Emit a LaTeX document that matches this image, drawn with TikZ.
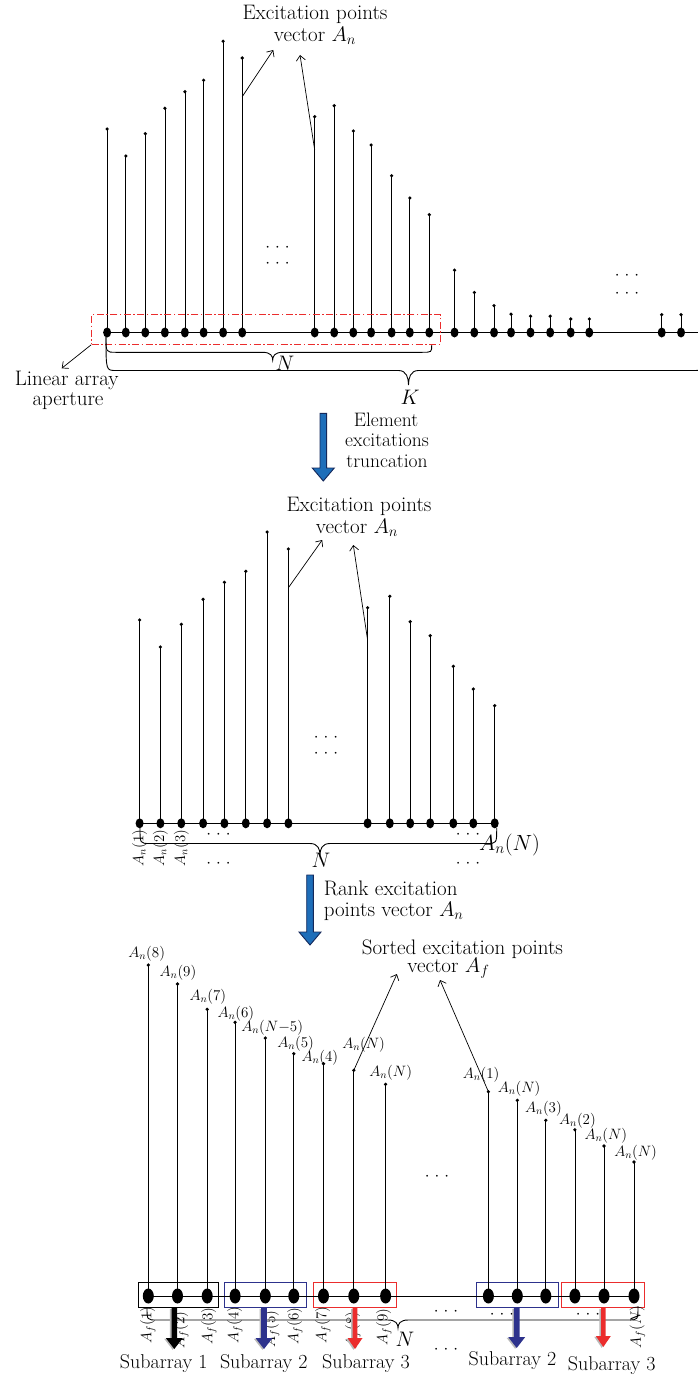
\RequirePackage{fix-cm}
\documentclass[tikz,border=0pt]{standalone}
\usetikzlibrary{arrows.meta}
\definecolor{redbox}{RGB}{235,45,45}
\definecolor{navy}{RGB}{45,50,140}
\definecolor{bluefill}{RGB}{30,110,185}
\definecolor{blueline}{RGB}{20,40,90}
\newcommand\dts{$\cdot$\hspace{5pt}$\cdot$\hspace{5pt}$\cdot$}
\newcommand\blockarr[7]{\path[#1] ({#2-#5},#3) -- ({#2-#5},{#4-#7}) -- ({#2-#6},{#4-#7}) -- (#2,#4) -- ({#2+#6},{#4-#7}) -- ({#2+#5},{#4-#7}) -- ({#2+#5},#3) -- cycle;}
\newcommand\cbrace[7]{\draw[bracel] (#1,#2) .. controls (#1,#5) and (#1,#5) .. ({#1+10},#5) -- ({#6-10},#5) .. controls ({#6-2},#5) and (#6,{(#5+#7)/2}) .. (#6,#7) .. controls (#6,{(#5+#7)/2}) and ({#6+2},#5) .. ({#6+10},#5) -- ({#3-10},#5) .. controls (#3,#5) and (#3,#5) .. (#3,#4);}
\begin{document}
\begin{tikzpicture}[x=1pt,y=-1pt,
  txt/.style={font=\fontsize{21}{24}\selectfont, inner sep=0pt, anchor=base},
  etxt/.style={font=\fontsize{19.5}{22}\selectfont, inner sep=0pt, anchor=base},
  sub/.style={font=\fontsize{20}{23}\selectfont, inner sep=0pt, anchor=base},
  lbl/.style={font=\fontsize{15}{18}\selectfont, inner sep=0pt, anchor=base},
  rlbl/.style={font=\fontsize{15}{18}\selectfont, inner sep=0pt, rotate=90},
  dotsn/.style={font=\fontsize{17}{20}\selectfont, inner sep=0pt},
  stemln/.style={line width=0.75pt},
  axisln/.style={line width=1.2pt},
  bracel/.style={line width=0.9pt},
  thinarrow/.style={-{Straight Barb[length=5pt,width=9pt]}, line width=0.7pt},
  bigblue/.style={fill=bluefill, draw=blueline, line width=0.9pt},
  shadow/.style={fill=gray!55, shift={(-1.6,0.8)}},
]
\useasboundingbox (0,0) rectangle (697,1378);

% ================= TOP =================
\draw[axisln] (107.1,332.5) -- (699,332.5);
\foreach \x/\t [count=\i] in {107.1/129,125.8/156,145.3/133.7,164.9/108.3,184.9/91.7,203.6/80.3,223.1/41.3,242.2/58,314.7/116.7,334.2/105.7,353.3/131,371.1/145,391.6/175.7,409.8/198,429.3/214.7,454.5/270.2,474.3/292.5,494/305.6,511/314.2,530.5/316.2,550.2/316.2,570.7/319,589.3/319,661.7/314.7,681/314.7}{
  \draw[stemln] (\x,332.5) -- (\x,\t);
  \fill (\x,\t) circle[radius=1.8pt];
  \fill (\x,332.5) ellipse[x radius=4pt, y radius=5pt];
  \coordinate (T\i) at (\x,332.5);
}
\node[dotsn] (td1) at (277.5,247.7) {\dts};
\node[dotsn] (td2) at (277.5,263.3) {\dts};
\node[dotsn] (td3) at (627,275.7) {\dts};
\node[dotsn] (td4) at (627,293.7) {\dts};

\node[txt] (tt1) at (315,19.3) {Excitation points};
\node[txt] (tt2) at (315,41.7) {vector $A_n$};
\coordinate (ta1) at (242.2,96.7);
\coordinate (ta1e) at (273.3,50);
\coordinate (ta2) at (314.7,150);
\coordinate (ta2e) at (300,55);
\draw[thinarrow] (ta1) -- (ta1e);
\draw[thinarrow] (ta2) -- (ta2e);

\node[draw=redbox, line width=0.9pt, dash pattern=on 7pt off 2.5pt on 1.5pt off 2.5pt, minimum width=349pt, minimum height=29.6pt, inner sep=0pt] (aper) at (266.2,329.5) {};
\coordinate (la) at (61.7,368.3);
\draw[thinarrow] (aper.south west) -- (la);
\node[txt] (lat1) at (66.7,385) {Linear array};
\node[txt] (lat2) at (68,405) {aperture};

\cbrace{106}{337}{431.7}{345}{352.3}{272.7}{360}
\cbrace{106}{337}{703}{352}{370.5}{408.5}{385}
\node[txt] (tN) at (285,370) {$N$};
\node[txt] (tK) at (410,404) {$K$};

% first block arrow
\blockarr{bigblue}{323.3}{413.3}{481}{3.3}{11}{13}
\node[etxt] (e1) at (386,426.7) {Element};
\node[etxt] (e2) at (387,446.7) {excitations};
\node[etxt] (e3) at (387,467.3) {truncation};

% ================= MIDDLE =================
\draw[axisln] (139.6,823.3) -- (494.7,823.3);
\foreach \x/\t [count=\i] in {139.6/620,160.4/647,181.3/624.3,203.1/599.3,224.4/582.3,245.8/571.3,267.1/532,288.4/549,367.6/607.7,389.8/596.3,410.2/621.7,430.2/635.7,453.3/666.3,473.3/689,494.7/705.7}{
  \draw[stemln] (\x,823.3) -- (\x,\t);
  \fill (\x,\t) circle[radius=1.8pt];
  \fill (\x,823.3) ellipse[x radius=4pt, y radius=5pt];
  \coordinate (M\i) at (\x,823.3);
}
\node[dotsn] (md1) at (326,737.3) {\dts};
\node[dotsn] (md2) at (326,753.3) {\dts};
\node[dotsn] (md3) at (218.5,834.3) {\dts};
\node[dotsn] (md4) at (218.5,863.3) {\dts};
\node[dotsn] (md5) at (468,834.3) {\dts};
\node[dotsn] (md6) at (468,863.3) {\dts};

\node[txt] (mt1) at (359,511.7) {Excitation points};
\node[txt] (mt2) at (357,533.3) {vector $A_n$};
\coordinate (ma1) at (288.4,587.7);
\coordinate (ma1e) at (322.2,540);
\coordinate (ma2) at (367.6,640);
\coordinate (ma2e) at (353.3,545);
\draw[thinarrow] (ma1) -- (ma1e);
\draw[thinarrow] (ma2) -- (ma2e);

\node[rlbl] (ml1) at (139.6,848) {$A_n(1)$};
\node[rlbl] (ml2) at (160.4,848) {$A_n(2)$};
\node[rlbl] (ml3) at (181.3,848) {$A_n(3)$};
\node[font=\fontsize{22}{24}\selectfont, inner sep=0pt, anchor=base west] (mlN) at (479,850) {$A_n(N)$};

\cbrace{140}{828}{496.7}{828}{843.5}{320}{855}
\node[txt] (mN) at (321,867.3) {$N$};

% second block arrow
\blockarr{bigblue}{310}{875}{945}{3.3}{11}{13}
\node[txt, anchor=base west] (r1) at (323.6,895) {Rank excitation};
\node[txt, anchor=base west] (r2) at (323.6,916.7) {points vector $A_n$};

% ================= BOTTOM =================
\node[draw=black, line width=0.8pt, minimum width=80pt, minimum height=25pt, inner sep=0pt] (bx1) at (178.3,1294.8) {};
\node[draw=navy, line width=0.8pt, minimum width=81.7pt, minimum height=25pt, inner sep=0pt] (bx2) at (265.2,1294.8) {};
\node[draw=redbox, line width=0.8pt, minimum width=83.4pt, minimum height=25pt, inner sep=0pt] (bx3) at (355,1294.8) {};
\node[draw=navy, line width=0.8pt, minimum width=82.3pt, minimum height=25pt, inner sep=0pt] (bx4) at (517.2,1294.8) {};
\node[draw=redbox, line width=0.8pt, minimum width=82.3pt, minimum height=25pt, inner sep=0pt] (bx5) at (602.9,1294.8) {};

\draw[line width=1pt] (148.3,1296) -- (634,1296);
\foreach \x/\t [count=\i] in {148.3/965,177.5/984,207.2/1009.3,235.1/1022.3,265.3/1038,293.8/1053.7,323.5/1063.7,353.8/1070.3,385.6/1084.3,488.4/1091.7,517.3/1100.3,545.8/1120.3,574.9/1129.7,604/1146,634/1162}{
  \draw[stemln] (\x,1296) -- (\x,\t);
  \fill (\x,\t) circle[radius=1.8pt];
  \fill (\x,1296) ellipse[x radius=5.5pt, y radius=7.5pt];
  \coordinate (B\i) at (\x,1296);
}

\node[lbl] (bl1) at (146.7,957.7) {$A_n(8)$};
\node[lbl] (bl2) at (178,976.7) {$A_n(9)$};
\node[lbl] (bl3) at (207.8,1000.3) {$A_n(7)$};
\node[lbl] (bl4) at (235.8,1017) {$A_n(6)$};
\node[lbl] (bl5) at (272.2,1031.7) {$A_n(N{-}5)$};
\node[lbl] (bl6) at (295.6,1047) {$A_n(5)$};
\node[lbl] (bl7) at (319.8,1061.7) {$A_n(4)$};
\node[lbl] (bl8) at (363.6,1048.7) {$A_n(N)$};
\node[lbl] (bl9) at (390.7,1076.7) {$A_n(N)$};
\node[lbl] (bl10) at (481.1,1078.7) {$A_n(1)$};
\node[lbl] (bl11) at (519.1,1092.7) {$A_n(N)$};
\node[lbl] (bl12) at (543.5,1112.7) {$A_n(3)$};
\node[lbl] (bl13) at (577.5,1124.3) {$A_n(2)$};
\node[lbl] (bl14) at (605.8,1139.3) {$A_n(N)$};
\node[lbl] (bl15) at (635.6,1156) {$A_n(N)$};

\node[txt] (st1) at (462.4,954) {Sorted excitation points};
\node[txt] (st2) at (448.4,972.7) {vector $A_f$};
\coordinate (sa1) at (353.8,1070.3);
\coordinate (sa1e) at (396.9,974);
\coordinate (sa2) at (488.4,1091.7);
\coordinate (sa2e) at (440,980);
\draw[thinarrow] (sa1) -- (sa1e);
\draw[thinarrow] (sa2) -- (sa2e);

\node[dotsn] (bd1) at (437,1177) {\dts};
\node[dotsn] (bd2) at (446,1311.7) {\dts};
\node[dotsn] (bd3) at (446,1350) {\dts};
\node[dotsn] (bd4) at (502,1315) {\dts};
\node[dotsn] (bd5) at (588,1315) {\dts};

\cbrace{147}{1307}{638}{1306}{1320}{398}{1328}
\node[txt] (bN) at (405,1346) {$N$};

\node[rlbl] (fl1) at (148,1325) {$A_f(1)$};
\node[rlbl] (fl2) at (181,1330) {$A_f(2)$};
\node[rlbl] (fl3) at (209,1326) {$A_f(3)$};
\node[rlbl] (fl4) at (235,1325) {$A_f(4)$};
\node[rlbl] (fl5) at (271.7,1329) {$A_f(5)$};
\node[rlbl] (fl6) at (295,1326) {$A_f(6)$};
\node[rlbl] (fl7) at (323,1325) {$A_f(7)$};
\node[rlbl] (fl8) at (353,1330) {$A_f(8)$};
\node[rlbl] (fl9) at (384,1327) {$A_f(9)$};
\node[rlbl] (flN) at (637.5,1327) {$A_f(N)$};

% subarray arrows
\blockarr{shadow}{174.3}{1308}{1349}{2.8}{8.5}{11}
\blockarr{fill=black}{174.3}{1308}{1349}{2.8}{8.5}{11}
\blockarr{shadow}{264}{1308}{1349}{2.8}{8.5}{11}
\blockarr{fill=navy}{264}{1308}{1349}{2.8}{8.5}{11}
\blockarr{shadow}{355}{1308}{1349}{2.3}{7.5}{11}
\blockarr{fill=redbox}{355}{1308}{1349}{2.3}{7.5}{11}
\blockarr{shadow}{516.7}{1308}{1348}{2.8}{8.5}{11}
\blockarr{fill=navy}{516.7}{1308}{1348}{2.8}{8.5}{11}
\blockarr{shadow}{603.3}{1308}{1347}{2.3}{7.5}{11}
\blockarr{fill=redbox}{603.3}{1308}{1347}{2.3}{7.5}{11}

\node[sub] (s1) at (163.7,1368.3) {Subarray 1};
\node[sub] (s2) at (263.8,1368.3) {Subarray 2};
\node[sub] (s3) at (366,1368.3) {Subarray 3};
\node[sub] (s4) at (512.5,1365) {Subarray 2};
\node[sub] (s5) at (611.7,1370) {Subarray 3};
\end{tikzpicture}
\end{document}
